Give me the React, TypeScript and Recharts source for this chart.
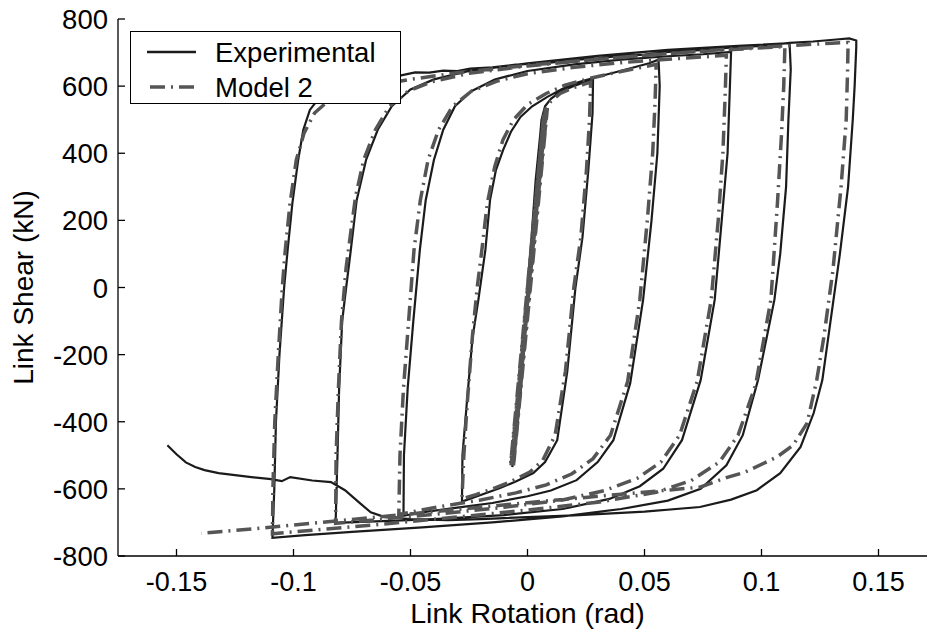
import React from "react"
import { LineChart, Line, XAxis, YAxis, Legend } from "recharts"

type Pt = [number, number]

const xTicks = [-0.15, -0.1, -0.05, 0, 0.05, 0.1, 0.15]
const yTicks = [-800, -600, -400, -200, 0, 200, 400, 600, 800]

// experimental test record, branch by branch (rotation rad, shear kN)
const expElastic: Pt[] = [[0, 0], [0.0035, 300], [0.0055, 450], [0.002, 120], [-0.0025, -260], [-0.0045, -430], [-0.001, -110], [0.0035, 320], [0.0058, 480], [0.0015, 100], [-0.003, -320], [-0.0065, -535], [-0.0015, -170], [0.003, 260], [0.006, 500], [0.0075, 540]]
const expFirst: Pt[] = [[0.010, 562], [0.014, 583], [0.019, 598], [0.024, 611], [0.028, 620]]
const expUnload1: Pt[] = [[0.0278, 520], [0.026, 350], [0.0235, 150], [0.0205, 0], [0.017, -250], [0.0127, -455], [0.0075, -520], [0.0025, -553], [-0.005, -578], [-0.012, -598], [-0.020, -618], [-0.028, -638]]
const expReload1: Pt[] = [[-0.0278, -500], [-0.026, -350], [-0.0235, -150], [-0.021, -37], [-0.018, 112], [-0.016, 261], [-0.0135, 350], [-0.0104, 410], [-0.007, 465], [-0.003, 508], [0.002, 540], [0.0085, 568], [0.015, 592], [0.022, 612], [0.030, 628], [0.038, 642], [0.046, 657], [0.052, 668], [0.056, 679]]
const expUnload2: Pt[] = [[0.0565, 600], [0.0555, 400], [0.053, 200], [0.0494, -37], [0.0439, -285], [0.0367, -455], [0.030, -520], [0.021, -574], [0.010, -605], [0.0, -622], [-0.015, -642], [-0.030, -656], [-0.043, -668], [-0.053, -680]]
const expReload2: Pt[] = [[-0.0528, -500], [-0.0512, -300], [-0.0488, -100], [-0.046, 112], [-0.0435, 260], [-0.040, 380], [-0.036, 470], [-0.031, 540], [-0.024, 585], [-0.014, 620], [0.0, 645], [0.02, 665], [0.04, 679], [0.06, 689], [0.075, 695], [0.087, 702]]
const expUnload3: Pt[] = [[0.0865, 600], [0.0855, 400], [0.083, 200], [0.080, -37], [0.074, -276], [0.066, -455], [0.058, -540], [0.048, -592], [0.035, -630], [0.015, -660], [-0.010, -678], [-0.040, -690], [-0.065, -697], [-0.082, -701]]
const expReload3: Pt[] = [[-0.0812, -500], [-0.0805, -300], [-0.0792, -100], [-0.0775, 0], [-0.0755, 112], [-0.073, 260], [-0.069, 380], [-0.064, 470], [-0.058, 540], [-0.050, 590], [-0.040, 620], [-0.025, 645], [0.0, 668], [0.030, 690], [0.060, 708], [0.090, 720], [0.112, 728]]
const expUnload4: Pt[] = [[0.1125, 650], [0.1115, 500], [0.1105, 300], [0.108, 100], [0.1055, -37], [0.0985, -276], [0.092, -440], [0.085, -530], [0.074, -600], [0.060, -635], [0.040, -660], [0.015, -682], [-0.015, -700], [-0.045, -715], [-0.075, -728], [-0.095, -738], [-0.109, -746]]
const expReload4: Pt[] = [[-0.1082, -600], [-0.1075, -400], [-0.106, -200], [-0.104, 0], [-0.1025, 112], [-0.1005, 250], [-0.098, 380], [-0.0958, 470], [-0.093, 529], [-0.0887, 568], [-0.082, 598], [-0.074, 615], [-0.064, 627], [-0.054, 632], [-0.048, 641], [-0.042, 640], [-0.036, 646], [-0.030, 645], [-0.0245, 652], [-0.015, 656], [-0.005, 664], [0.0097, 670], [0.02, 678], [0.03, 683], [0.04, 690], [0.05, 694], [0.06, 702], [0.0738, 707], [0.085, 714], [0.10, 720], [0.112, 729], [0.122, 733], [0.132, 739], [0.1375, 742], [0.1405, 736]]
const expFinal: Pt[] = [[0.1405, 717], [0.1398, 600], [0.139, 500], [0.137, 300], [0.1335, 100], [0.1295, -100], [0.126, -276], [0.1223, -374], [0.1167, -475], [0.108, -553], [0.098, -604], [0.087, -632], [0.0737, -654], [0.05, -668], [0.02, -679], [0.0, -684], [-0.02, -690], [-0.034, -693], [-0.050, -690], [-0.061, -684], [-0.067, -670], [-0.072, -640], [-0.078, -604], [-0.084, -580], [-0.092, -575], [-0.1014, -565], [-0.105, -577], [-0.1096, -571], [-0.118, -565], [-0.125, -559], [-0.132, -553], [-0.138, -544], [-0.142, -535], [-0.146, -521], [-0.150, -497], [-0.1539, -470]]

// Model 2 prediction
const modelElastic: Pt[] = [[0, 0], [0.0082, 529], [-0.0060, -530], [0.0070, 520], [-0.0072, -525], [0.0085, 535], [-0.0058, -520], [0.0068, 510], [-0.0070, -530], [0.0080, 532], [-0.0064, -528], [0.0076, 529]]
const modelFirst: Pt[] = [[0.010, 555], [0.014, 578], [0.019, 594], [0.024, 605], [0.027, 612]]
const modelUnload1: Pt[] = [[0.0265, 500], [0.0252, 350], [0.0228, 150], [0.0198, 0], [0.0162, -250], [0.0118, -440], [0.0065, -515], [0.001, -550], [-0.007, -578], [-0.015, -600], [-0.022, -617], [-0.028, -630]]
const modelReload1: Pt[] = [[-0.0272, -500], [-0.0258, -350], [-0.0236, -150], [-0.0215, 0], [-0.0195, 112], [-0.0172, 250], [-0.014, 360], [-0.0105, 440], [-0.006, 500], [0.0, 545], [0.008, 578], [0.016, 603], [0.026, 622], [0.036, 638], [0.046, 652], [0.055, 665]]
const modelUnload2: Pt[] = [[0.0545, 550], [0.0535, 400], [0.0512, 200], [0.048, -37], [0.0428, -280], [0.0355, -440], [0.028, -510], [0.019, -555], [0.008, -588], [-0.005, -612], [-0.020, -633], [-0.035, -650], [-0.046, -664], [-0.055, -676]]
const modelReload2: Pt[] = [[-0.0545, -500], [-0.053, -300], [-0.0508, -100], [-0.0485, 112], [-0.0458, 260], [-0.0425, 380], [-0.038, 470], [-0.032, 540], [-0.024, 585], [-0.013, 615], [0.0, 637], [0.02, 656], [0.04, 670], [0.06, 680], [0.075, 687], [0.085, 692]]
const modelUnload3: Pt[] = [[0.0845, 580], [0.0835, 400], [0.0815, 200], [0.0785, -37], [0.0725, -280], [0.065, -440], [0.057, -520], [0.047, -568], [0.033, -605], [0.015, -633], [-0.010, -655], [-0.040, -676], [-0.065, -692], [-0.082, -703]]
const modelReload3: Pt[] = [[-0.0818, -500], [-0.0808, -300], [-0.0795, -100], [-0.0775, 60], [-0.0758, 150], [-0.0735, 270], [-0.070, 380], [-0.065, 470], [-0.059, 540], [-0.051, 585], [-0.041, 613], [-0.025, 638], [0.0, 660], [0.030, 680], [0.060, 697], [0.090, 710], [0.110, 718]]
const modelUnload4: Pt[] = [[0.1095, 600], [0.1085, 450], [0.1068, 250], [0.104, -37], [0.0975, -290], [0.090, -440], [0.082, -520], [0.070, -575], [0.055, -610], [0.030, -640], [0.0, -663], [-0.030, -684], [-0.060, -704], [-0.090, -722], [-0.109, -734]]
const modelReload4: Pt[] = [[-0.1088, -600], [-0.108, -400], [-0.1065, -200], [-0.1048, 0], [-0.1035, 112], [-0.1015, 250], [-0.0988, 380], [-0.0955, 460], [-0.091, 520], [-0.085, 557], [-0.076, 585], [-0.065, 603], [-0.050, 620], [-0.030, 640], [0.0, 662], [0.03, 680], [0.06, 697], [0.09, 712], [0.115, 722], [0.130, 728], [0.137, 730]]
const modelFinal: Pt[] = [[0.1368, 650], [0.1362, 500], [0.134, 300], [0.1305, 50], [0.1266, -150], [0.1236, -276], [0.1195, -404], [0.1135, -470], [0.1066, -505], [0.093, -550], [0.0857, -565], [0.0737, -595], [0.04, -616], [0.0, -641], [-0.0338, -664], [-0.075, -691], [-0.1138, -717], [-0.1394, -732]]

const toPts = (arr: Pt[]) => arr.map(([x, y]) => ({ x, y }))

const expData = toPts([
  ...expElastic, ...expFirst, ...expUnload1, ...expReload1, ...expUnload2, ...expReload2,
  ...expUnload3, ...expReload3, ...expUnload4, ...expReload4, ...expFinal,
])
const modelData = toPts([
  ...modelElastic, ...modelFirst, ...modelUnload1, ...modelReload1, ...modelUnload2, ...modelReload2,
  ...modelUnload3, ...modelReload3, ...modelUnload4, ...modelReload4, ...modelFinal,
])

const FONT = '"Liberation Sans", Arial, Helvetica, sans-serif'
const EXP_COLOR = "#1b1b1b"
const MODEL_COLOR = "#555555"
const MODEL_DASH = "15 6 2 6"

const BottomTick = (props: any) => {
  const { x, y, payload } = props
  return (
    <g>
      <line x1={x} x2={x} y1={y} y2={y - 7} stroke="#000" strokeWidth={1.3} />
      <text x={x} y={y + 35} textAnchor="middle" fontSize={27} fontFamily={FONT} fill="#000">
        {String(payload.value)}
      </text>
    </g>
  )
}

const TopTick = (props: any) => {
  const { x, y } = props
  return <line x1={x} x2={x} y1={y} y2={y + 7} stroke="#000" strokeWidth={1.3} />
}

const LeftTick = (props: any) => {
  const { x, y, payload } = props
  return (
    <g>
      <line x1={x} x2={x + 7} y1={y} y2={y} stroke="#000" strokeWidth={1.3} />
      <text x={x - 10} y={y + 10} textAnchor="end" fontSize={27.5} fontFamily={FONT} fill="#000">
        {String(payload.value)}
      </text>
    </g>
  )
}

const LegendBox = () => (
  <svg width={271} height={73} style={{ display: "block" }}>
    <rect x={0.5} y={0.5} width={270} height={72} fill="#fff" stroke="#000" strokeWidth={1} />
    <line x1={17} x2={66} y1={21} y2={21} stroke={EXP_COLOR} strokeWidth={2.4} />
    <text x={85} y={31} fontSize={27.5} fontFamily={FONT} fill="#000">Experimental</text>
    <line x1={17} x2={66} y1={56} y2={56} stroke={MODEL_COLOR} strokeWidth={3.5} strokeDasharray={MODEL_DASH} strokeDashoffset={26} />
    <text x={85} y={66} fontSize={27.5} fontFamily={FONT} fill="#000">Model 2</text>
  </svg>
)

export default function App() {
  return (
    <div style={{ position: "absolute", left: 0, top: 0, width: 927, height: 632, overflow: "hidden", background: "#fff" }}>
      <LineChart width={937} height={632} margin={{ top: 19, right: 0, bottom: 0, left: 0 }}>
        <XAxis
          xAxisId="bottom"
          dataKey="x"
          type="number"
          domain={[-0.175, 0.175]}
          ticks={xTicks}
          height={76}
          tickSize={0}
          tickMargin={0}
          tickLine={false}
          tick={BottomTick}
          axisLine={{ stroke: "#000", strokeWidth: 1.3 }}
          allowDataOverflow
          label={(p: any) => {
            const vb = p.viewBox || { x: 118, y: 556, width: 819 }
            return (
              <text x={vb.x + vb.width / 2} y={vb.y + 67} textAnchor="middle" fontSize={28.5} fontFamily={FONT} fill="#000">
                Link Rotation (rad)
              </text>
            )
          }}
        />
        <XAxis
          xAxisId="top"
          orientation="top"
          dataKey="x"
          type="number"
          domain={[-0.175, 0.175]}
          ticks={xTicks}
          height={0}
          tickSize={0}
          tickMargin={0}
          tickLine={false}
          tick={TopTick}
          axisLine={{ stroke: "#000", strokeWidth: 1.3 }}
          allowDataOverflow
        />
        <YAxis
          yAxisId="left"
          type="number"
          domain={[-800, 800]}
          ticks={yTicks}
          width={118}
          tickSize={0}
          tickMargin={0}
          tickLine={false}
          tick={LeftTick}
          axisLine={{ stroke: "#000", strokeWidth: 1.3 }}
          allowDataOverflow
          label={(p: any) => {
            const vb = p.viewBox || { x: 0, y: 19, height: 537 }
            const cy = vb.y + vb.height / 2
            return (
              <text x={33} y={cy} transform={`rotate(-90 33 ${cy})`} textAnchor="middle" fontSize={28} fontFamily={FONT} fill="#000">
                Link Shear (kN)
              </text>
            )
          }}
        />
        <Line
          xAxisId="bottom"
          yAxisId="left"
          data={expData}
          dataKey="y"
          type="linear"
          stroke={EXP_COLOR}
          strokeWidth={2.2}
          dot={false}
          activeDot={false}
          isAnimationActive={false}
        />
        <Line
          xAxisId="bottom"
          yAxisId="left"
          data={modelData}
          dataKey="y"
          type="linear"
          stroke={MODEL_COLOR}
          strokeWidth={3.5}
          strokeDasharray={MODEL_DASH}
          dot={false}
          activeDot={false}
          isAnimationActive={false}
        />
        <Legend
          layout="vertical"
          align="center"
          verticalAlign="middle"
          content={() => <LegendBox />}
          wrapperStyle={{ left: 130, top: 31, width: 271, height: 73 }}
        />
      </LineChart>
    </div>
  )
}
